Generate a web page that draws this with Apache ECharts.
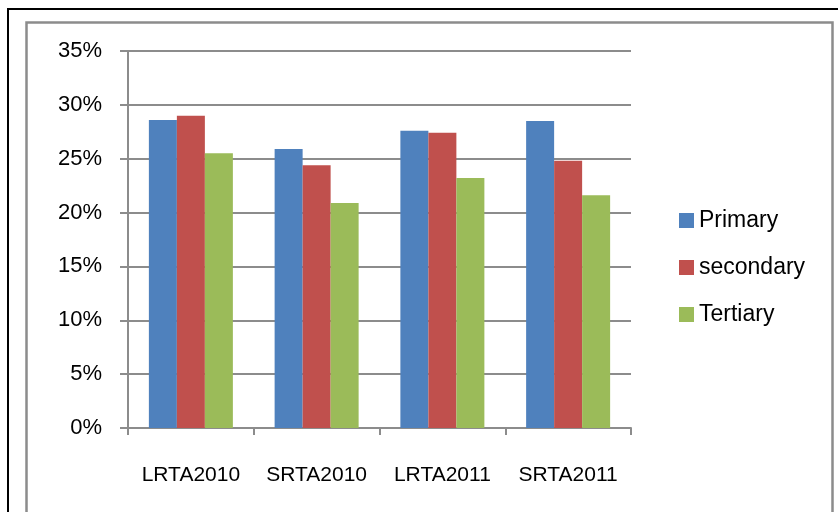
<!DOCTYPE html>
<html>
<head>
<meta charset="utf-8">
<script src="https://cdn.jsdelivr.net/npm/echarts@6/dist/echarts.min.js"></script>
<style>
  html, body { margin: 0; padding: 0; background: #fff; }
  #chart { width: 838px; height: 512px; }
</style>
</head>
<body>
<div id="chart"></div>
<script>
// values, in percent
const categories = ["LRTA2010", "SRTA2010", "LRTA2011", "SRTA2011"];
const primary = [28.6, 25.9, 27.6, 28.5];
const secondary = [29.0, 24.4, 27.4, 24.8];
const tertiary = [25.5, 20.9, 23.2, 21.6];

const font = "'Liberation Sans', Arial, sans-serif";
const grey = "#8c8c8c";

let myChart = echarts.init(document.getElementById("chart"));

let option = {
  animation: false,
  textStyle: { fontFamily: font },
  graphic: [
    {
      type: "rect",
      shape: { x: 8, y: 9, width: 840, height: 520 },
      style: { fill: null, stroke: "#000", lineWidth: 2 },
      silent: true,
    },
    {
      type: "rect",
      shape: { x: 26.5, y: 22.5, width: 806, height: 510 },
      style: { fill: null, stroke: grey, lineWidth: 2.5 },
      silent: true,
    },
  ],
  legend: {
    orient: "vertical",
    left: 674,
    top: 204,
    itemWidth: 15,
    itemHeight: 15,
    itemGap: 24,
    icon: "rect",
    textStyle: { fontSize: 23, color: "#000", fontFamily: font },
    data: ["Primary", "secondary", "Tertiary"],
  },
  grid: {
    left: 128,
    right: 207,
    top: 51,
    bottom: 84,
    containLabel: false,
  },
  xAxis: {
    type: "category",
    data: categories,
    axisLine: { lineStyle: { color: grey, width: 2 } },
    axisTick: { show: true, interval: 0, length: 7, lineStyle: { color: grey, width: 2 } },
    axisLabel: { interval: 0, fontSize: 21, color: "#000", margin: 37, fontFamily: font },
  },
  yAxis: {
    type: "value",
    min: 0,
    max: 35,
    interval: 5,
    axisLine: { show: true, lineStyle: { color: grey, width: 2 } },
    axisTick: { show: true, length: 8, lineStyle: { color: grey, width: 2 } },
    axisLabel: {
      fontSize: 22,
      color: "#000",
      margin: 26,
      fontFamily: font,
      formatter: "{value}%",
    },
    splitLine: { lineStyle: { color: grey, width: 2 } },
  },
  series: [
    {
      name: "Primary",
      type: "bar",
      barWidth: 28,
      barGap: "0%",
      itemStyle: { color: "#4F81BD" },
      data: primary,
    },
    {
      name: "secondary",
      type: "bar",
      barWidth: 28,
      barGap: "0%",
      itemStyle: { color: "#C0504D" },
      data: secondary,
    },
    {
      name: "Tertiary",
      type: "bar",
      barWidth: 28,
      barGap: "0%",
      itemStyle: { color: "#9BBB59" },
      data: tertiary,
    },
  ],
};
myChart.setOption(option);
</script>
</body>
</html>
